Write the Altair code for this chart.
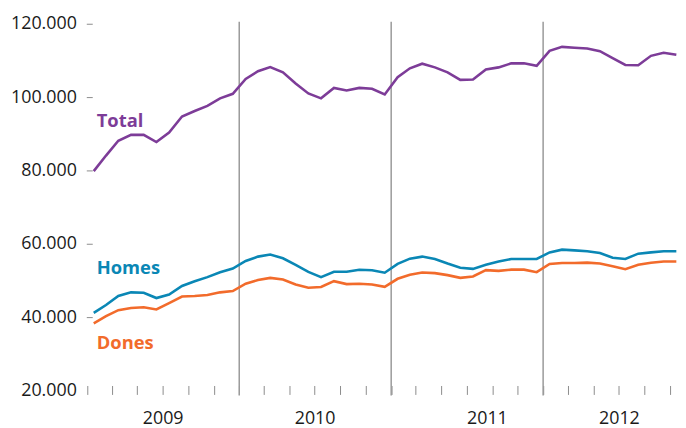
import altair as alt
import pandas as pd

# Monthly observations, Jan 2009 - Nov 2012
months = [f"{y}-{m:02d}-01T00:00" for y in range(2009, 2013) for m in range(1, 13)][:47]

total = [79800, 84050, 88100, 89700, 89700, 87750, 90350, 94700, 96200, 97600, 99650, 100900,
         104950, 107050, 108200, 106750, 103700, 101000, 99650, 102500, 101800, 102500, 102250, 100700,
         105400, 107850, 109100, 108100, 106750, 104700, 104800, 107500, 108100, 109200, 109200, 108550,
         112600, 113700, 113450, 113250, 112500, 110600, 108750, 108700, 111250, 112100, 111550]

homes = [41150, 43300, 45750, 46750, 46650, 45200, 46150, 48500, 49800, 50900, 52250, 53250,
         55300, 56500, 57050, 56050, 54250, 52350, 50900, 52350, 52350, 52900, 52800, 52100,
         54500, 55950, 56500, 55850, 54600, 53450, 53150, 54250, 55150, 55850, 55850, 55850,
         57650, 58400, 58200, 57950, 57500, 56200, 55850, 57300, 57650, 57950, 57950]

dones = [38300, 40250, 41900, 42500, 42700, 42100, 43800, 45600, 45750, 46050, 46750, 47100,
         49100, 50100, 50700, 50250, 48900, 48000, 48200, 49800, 49000, 49100, 48900, 48250,
         50450, 51550, 52150, 52000, 51450, 50700, 51100, 52800, 52600, 52950, 52950, 52250,
         54500, 54750, 54750, 54850, 54600, 53850, 53050, 54250, 54850, 55150, 55150]

series_names = ["Total", "Homes", "Dones"]
series_colors = ["#7D3C98", "#0A87B5", "#F26B2B"]
year_starts = ["2010-01-01T00:00", "2011-01-01T00:00", "2012-01-01T00:00"]
y_ticks = [20000, 40000, 60000, 80000, 100000, 120000]

rows = []
for name, vals in zip(series_names, [total, homes, dones]):
    for i, (m, v) in enumerate(zip(months, vals)):
        rows.append({"month": m, "idx": i, "series": name, "value": v})
df = pd.DataFrame(rows)
rules_df = pd.DataFrame({"date": year_starts})

FONT = "Open Sans"
x_domain = [alt.DateTime(year=2009, month=1, date=1), alt.DateTime(year=2012, month=11, date=20)]
tick_values = [alt.DateTime(year=int(m[:4]), month=int(m[5:7]), date=1) for m in months]
y_scale = alt.Scale(domain=[20000, 120000], nice=False, zero=False)
x_scale = alt.Scale(domain=x_domain, nice=False)
color_scale = alt.Scale(domain=series_names, range=series_colors)

x_axis = alt.Axis(
    values=tick_values,
    labelExpr="month(datum.value) == 6 ? timeFormat(datum.value, '%Y') : ''",
    labelAlign={"condition": {"test": "year(datum.value) == 2011", "value": "left"}, "value": "center"},
    labelOverlap=False, labelFlush=False, labelBound=False,
    tickSize=9, offset=-5, domain=False, grid=False,
    tickColor="#8c8c8c", tickWidth=1,
    labelFont=FONT, labelFontSize=18, labelColor="#1a1a1a", labelPadding=15,
    title=None,
)
y_axis = alt.Axis(
    values=y_ticks,
    labelExpr="replace(format(datum.value, ',.0f'), ',', '.')",
    tickSize=6, offset=-5, domain=False, grid=False,
    tickColor="#8c8c8c", tickWidth=1,
    tickOpacity={"condition": {"test": "datum.value == 20000", "value": 0}, "value": 1},
    labelFont=FONT, labelFontSize=18, labelColor="#1a1a1a", labelPadding=10,
    title=None,
)

base = alt.Chart(df)

rules = alt.Chart(rules_df).mark_rule(color="#9a9a9a", strokeWidth=1.5).encode(
    x=alt.X("date:T", scale=x_scale, axis=x_axis),
    y=alt.value(-2),
    y2=alt.value(375),
)

lines = base.mark_line(strokeWidth=2.6).encode(
    x=alt.X("month:T", timeUnit="yearmonth", bandPosition=0.5, scale=x_scale, axis=x_axis),
    y=alt.Y("value:Q", scale=y_scale, axis=y_axis),
    color=alt.Color("series:N", scale=color_scale, legend=None),
)

def label(name, dy):
    return base.transform_filter(
        (alt.datum.series == name) & (alt.datum.idx == 0)
    ).mark_text(
        align="left", baseline="middle", dx=3, dy=dy,
        font=FONT, fontSize=18.5, fontWeight="bold",
    ).encode(
        x=alt.X("month:T", timeUnit="yearmonth", bandPosition=0.5, scale=x_scale, axis=x_axis),
        y=alt.Y("value:Q", scale=y_scale, axis=y_axis),
        text="series:N",
        color=alt.Color("series:N", scale=color_scale, legend=None),
    )

chart = alt.layer(
    rules, lines,
    label("Total", -51), label("Homes", -45), label("Dones", 20),
).properties(
    width=596, height=370,
    autosize="none",
    padding={"left": 80, "top": 14, "right": 0, "bottom": 36},
).configure_view(stroke=None)

chart.save("out.html", embed_options={"renderer": "svg", "actions": False})
